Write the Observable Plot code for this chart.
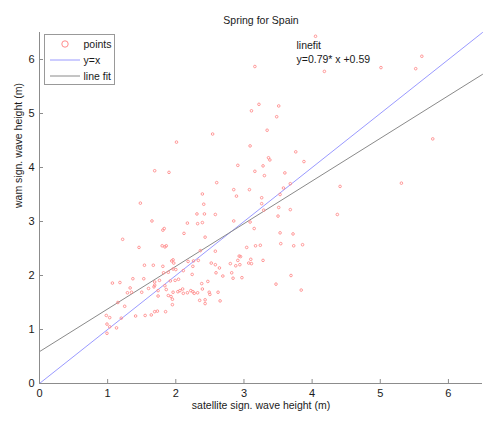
<!DOCTYPE html>
<html><head><meta charset="utf-8">
<script src="https://cdn.jsdelivr.net/npm/d3@7"></script>
<script src="https://cdn.jsdelivr.net/npm/@observablehq/plot@0.6"></script>
<style>body{margin:0;background:#fff} #chart{width:484px;height:421px}</style>
</head><body><div id="chart"></div>
<script>
const titleText = "Spring for Spain";
const xLabel = "satellite sign. wave height (m)";
const yLabel = "wam sign. wave height (m)";
const xTicks = [0, 1, 2, 3, 4, 5, 6];
const yTicks = [0, 1, 2, 3, 4, 5, 6];
const axisDomain = [0, 6.5];
const fitSlope = 0.79;
const fitIntercept = 0.59;
const legendLabels = ["points", "y=x", "line fit"];

const satX = [4.05,3.16,4.18,5.01,5.52,5.61,3.22,3.11,3.51,3.48,3.34,2.54,5.77,2.01,3.09,3.76,3.36,3.38,3.88,2.91,
3.28,1.69,1.90,3.16,3.30,3.60,2.60,3.68,5.31,4.41,2.39,2.85,3.08,3.58,2.89,3.53,3.26,1.48,2.41,3.26,
3.51,3.68,3.29,2.31,2.42,2.58,3.50,4.37,1.65,2.17,2.32,2.39,2.85,3.09,1.83,1.81,3.15,2.12,2.43,3.53,
3.72,1.22,1.46,1.80,1.84,1.86,2.36,2.58,3.04,3.17,3.24,3.54,3.86,3.73,1.96,1.97,1.94,2.18,2.26,2.33,
2.52,2.58,2.64,2.80,2.88,2.94,2.93,2.95,2.91,3.07,3.10,3.11,3.28,1.54,1.67,1.81,1.96,2.00,2.25,2.11,
1.82,1.89,2.24,2.59,2.82,2.84,2.97,2.69,3.69,3.47,3.84,1.07,1.18,1.37,1.53,1.69,1.76,1.99,1.92,2.04,
2.38,2.47,1.33,1.68,1.69,1.84,1.60,1.86,2.10,2.22,2.39,2.03,2.06,1.74,1.50,1.29,1.35,2.17,2.25,2.27,
2.32,2.49,2.50,2.62,1.96,1.93,1.95,1.74,1.89,2.35,2.43,2.43,2.65,1.95,1.15,1.25,1.85,1.69,1.73,1.64,
1.55,1.41,1.20,0.98,1.03,0.99,1.03,1.13,0.99,2.11];
const wamY = [6.43,5.87,5.78,5.85,5.83,6.06,5.17,5.05,5.14,4.94,4.69,4.62,4.53,4.47,4.40,4.29,4.18,4.14,4.11,4.04,
4.03,3.94,3.91,3.93,3.85,3.90,3.72,3.70,3.71,3.65,3.51,3.59,3.59,3.62,3.47,3.50,3.44,3.34,3.32,3.33,
3.26,3.22,3.21,3.14,3.14,3.13,3.10,3.13,3.01,2.97,2.96,2.98,3.01,2.99,2.87,2.84,2.87,2.78,2.71,2.79,
2.77,2.67,2.52,2.55,2.53,2.55,2.46,2.45,2.52,2.55,2.56,2.59,2.57,2.55,2.29,2.23,2.27,2.26,2.27,2.28,
2.23,2.20,2.14,2.22,2.18,2.20,2.36,2.35,2.28,2.23,2.30,2.22,2.28,2.19,2.19,2.17,2.12,2.11,2.17,2.09,
2.05,2.06,2.02,2.05,2.05,1.95,1.96,1.99,2.00,1.84,1.73,1.86,1.87,1.94,1.94,1.88,1.91,1.91,1.90,1.93,
1.85,1.89,1.77,1.79,1.82,1.81,1.76,1.74,1.75,1.72,1.75,1.70,1.72,1.72,1.69,1.68,1.69,1.68,1.70,1.67,
1.68,1.69,1.65,1.69,1.69,1.61,1.56,1.62,1.63,1.54,1.55,1.48,1.53,1.46,1.50,1.43,1.33,1.33,1.34,1.27,
1.26,1.25,1.21,1.26,1.22,1.10,1.05,1.03,0.93,1.67];

const points = satX.map((x, i) => ({x, y: wamY[i]}));

const W = 484, H = 421, mL = 39, mR = 2, mT = 32, mB = 38;
const pw = W - mL - mR, ph = H - mT - mB;
const axisColor = "#8c8c8c";
const pointColor = "#ff8c8c";
const diagColor = "#9a9aff";
const fitColor = "#8a8a8a";
const fmt = d => String(d);

const chart = Plot.plot({
  width: W, height: H,
  marginLeft: mL, marginRight: mR, marginTop: mT, marginBottom: mB,
  style: {fontFamily: "'Liberation Sans', Arial, sans-serif", fontSize: "10px", color: "#1a1a1a", background: "#fff"},
  x: {domain: axisDomain},
  y: {domain: axisDomain},
  marks: [
    Plot.line(axisDomain, {x: d => d, y: d => d, stroke: diagColor, strokeWidth: 1}),
    Plot.line(axisDomain, {x: d => d, y: d => fitSlope * d + fitIntercept, stroke: fitColor, strokeWidth: 1}),
    Plot.dot(points, {x: "x", y: "y", r: 1.3, stroke: pointColor, strokeWidth: 0.9, fill: "none"}),
    Plot.ruleX([0], {stroke: axisColor}),
    Plot.ruleY([0], {stroke: axisColor}),
    Plot.tickX(xTicks, {x: d => d, stroke: axisColor, insetTop: ph - 4}),
    Plot.tickY(yTicks, {y: d => d, stroke: axisColor, insetRight: pw - 4}),
    Plot.axisX(xTicks, {tickSize: 0, tickPadding: 6, label: null, fontSize: 11, tickFormat: fmt}),
    Plot.axisY(yTicks, {tickSize: 0, tickPadding: 5, label: null, fontSize: 11, tickFormat: fmt}),
    Plot.text([titleText], {text: d => d, frameAnchor: "top", dy: -16, fontSize: 10.5, fill: "#1a1a1a"}),
    Plot.text([xLabel], {text: d => d, frameAnchor: "bottom", dy: 25, fontSize: 10.5, fill: "#1a1a1a"}),
    Plot.text([yLabel], {text: d => d, frameAnchor: "left", dx: -21, rotate: -90, fontSize: 10.5, fill: "#1a1a1a"}),
    Plot.text(["linefit"], {text: d => d, frameAnchor: "top-left", dx: 257, dy: 9, textAnchor: "start", fontSize: 10.5, fill: "#1a1a1a"}),
    Plot.text([`y=${fitSlope}* x +${fitIntercept}`], {text: d => d, frameAnchor: "top-left", dx: 257, dy: 23, textAnchor: "start", fontSize: 10.5, fill: "#1a1a1a"})
  ]
});
document.getElementById("chart").appendChild(chart);

// legend box
const svg = d3.select(chart);
const lg = svg.append("g").attr("font-family", "'Liberation Sans', Arial, sans-serif").attr("font-size", 10.5).attr("fill", "#1a1a1a").attr("text-anchor", "start");
lg.append("rect").attr("x", 44.5).attr("y", 34.5).attr("width", 70).attr("height", 50)
  .attr("fill", "#fff").attr("stroke", "#999");
const rowY = [44, 60, 76];
lg.append("circle").attr("cx", 65).attr("cy", rowY[0]).attr("r", 3.2).attr("fill", "none").attr("stroke", pointColor);
lg.append("line").attr("x1", 50).attr("x2", 80).attr("y1", rowY[1]).attr("y2", rowY[1]).attr("stroke", diagColor);
lg.append("line").attr("x1", 50).attr("x2", 80).attr("y1", rowY[2]).attr("y2", rowY[2]).attr("stroke", fitColor);
legendLabels.forEach((t, i) => {
  lg.append("text").attr("x", 83.5).attr("y", rowY[i]).attr("dy", "0.35em").attr("text-anchor", "start").text(t);
});
</script>
</body></html>
